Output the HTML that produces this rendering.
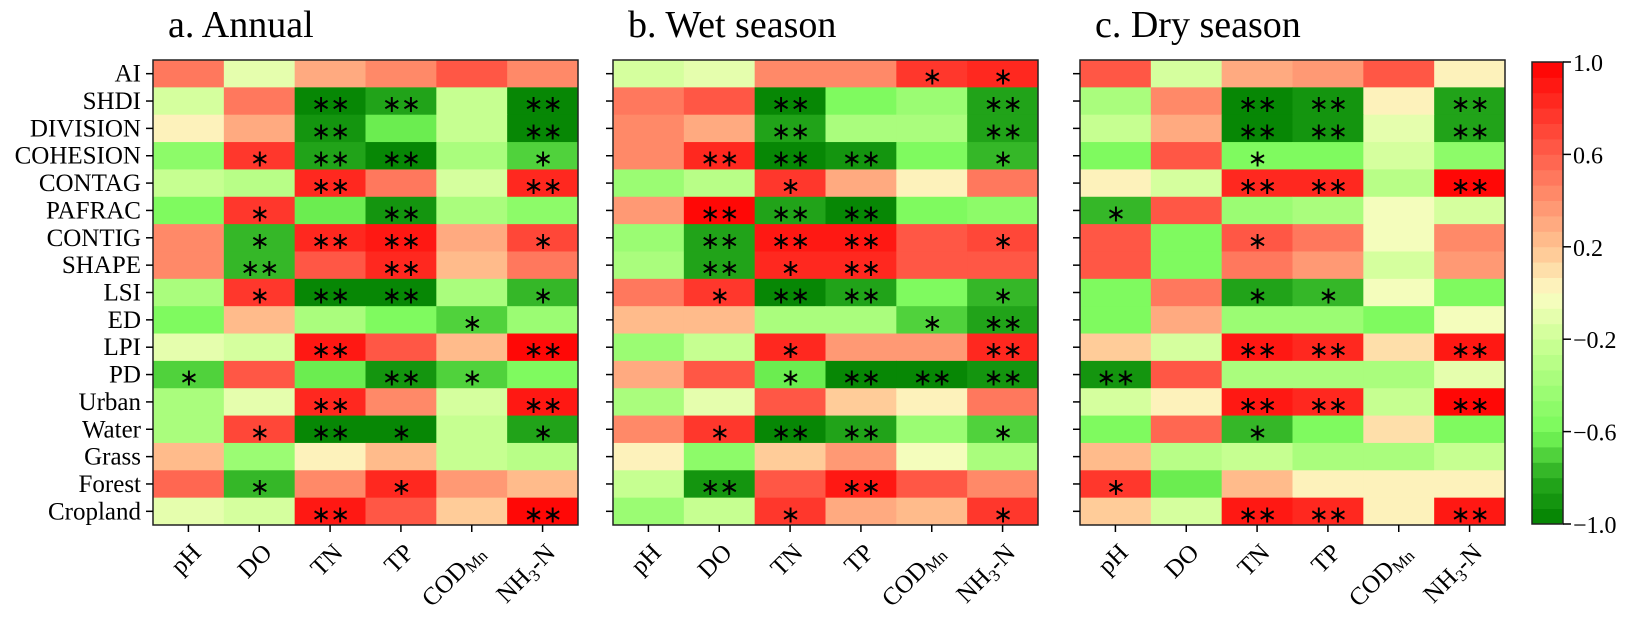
<!DOCTYPE html>
<html><head><meta charset="utf-8"><style>
html,body{margin:0;padding:0;background:#fff;}
svg{display:block;font-family:"Liberation Serif","DejaVu Serif",serif;}
</style></head><body>
<svg id="chart" width="1631" height="619" viewBox="0 0 1631 619" xmlns="http://www.w3.org/2000/svg"></svg>
<script>
const rowLabels = ["AI","SHDI","DIVISION","COHESION","CONTAG","PAFRAC","CONTIG","SHAPE","LSI","ED","LPI","PD","Urban","Water","Grass","Forest","Cropland"];
const colLabels = ["pH","DO","TN","TP","COD","NH3"];
const panelTitles = ["a. Annual","b. Wet season","c. Dry season"];
const cbTicks = [1.0,0.6,0.2,-0.2,-0.6,-1.0];
const cbTickLabels = ["1.0","0.6","0.2","\u22120.2","\u22120.6","\u22121.0"];

const annualValues = [
[0.5,-0.1,0.3,0.4,0.6,0.45],
[-0.15,0.5,-1.0,-0.85,-0.25,-1.0],
[0.05,0.3,-0.9,-0.65,-0.25,-1.0],
[-0.5,0.75,-0.85,-0.95,-0.4,-0.7],
[-0.25,-0.3,0.85,0.5,-0.2,0.8],
[-0.55,0.75,-0.65,-0.9,-0.4,-0.5],
[0.4,-0.75,0.8,0.9,0.3,0.7],
[0.4,-0.75,0.65,0.8,0.2,0.5],
[-0.4,0.75,-0.95,-1.0,-0.35,-0.75],
[-0.55,0.25,-0.4,-0.55,-0.7,-0.45],
[-0.1,-0.15,0.9,0.6,0.25,0.95],
[-0.7,0.6,-0.65,-0.9,-0.7,-0.55],
[-0.4,-0.1,0.85,0.4,-0.2,0.9],
[-0.35,0.7,-0.95,-0.95,-0.25,-0.8],
[0.25,-0.45,0.0,0.25,-0.25,-0.3],
[0.55,-0.75,0.4,0.8,0.35,0.25],
[-0.1,-0.2,0.9,0.6,0.15,0.95]];
const wetValues = [
[-0.15,-0.1,0.4,0.4,0.75,0.8],
[0.5,0.6,-0.95,-0.55,-0.45,-0.85],
[0.4,0.3,-0.8,-0.35,-0.35,-0.85],
[0.4,0.8,-1.0,-0.9,-0.6,-0.75],
[-0.45,-0.3,0.75,0.3,0.05,0.5],
[0.35,0.95,-0.85,-1.0,-0.6,-0.5],
[-0.45,-0.85,0.9,0.9,0.6,0.7],
[-0.35,-0.85,0.8,0.85,0.6,0.6],
[0.5,0.75,-0.95,-0.8,-0.6,-0.75],
[0.25,0.25,-0.35,-0.35,-0.7,-0.85],
[-0.45,-0.25,0.8,0.35,0.35,0.85],
[0.3,0.6,-0.65,-0.95,-0.95,-0.9],
[-0.4,-0.1,0.6,0.15,0.0,0.5],
[0.4,0.75,-1.0,-0.85,-0.45,-0.7],
[0.05,-0.5,0.15,0.35,-0.05,-0.35],
[-0.25,-0.9,0.6,0.9,0.6,0.4],
[-0.45,-0.25,0.75,0.3,0.25,0.75]];
const dryValues = [
[0.6,-0.2,0.3,0.35,0.6,0.0],
[-0.35,0.4,-1.0,-0.9,0.05,-0.85],
[-0.25,0.3,-1.0,-0.9,-0.1,-0.85],
[-0.6,0.6,-0.6,-0.55,-0.15,-0.5],
[0.0,-0.15,0.85,0.8,-0.3,0.95],
[-0.75,0.6,-0.45,-0.35,-0.05,-0.2],
[0.6,-0.6,0.65,0.5,-0.05,0.45],
[0.6,-0.6,0.5,0.35,-0.15,0.35],
[-0.55,0.5,-0.8,-0.75,-0.05,-0.55],
[-0.55,0.3,-0.45,-0.45,-0.6,-0.05],
[0.15,-0.2,0.9,0.85,0.1,0.9],
[-0.9,0.6,-0.4,-0.4,-0.4,-0.1],
[-0.2,0.0,0.9,0.85,-0.25,0.95],
[-0.55,0.55,-0.75,-0.6,0.1,-0.55],
[0.25,-0.3,-0.25,-0.35,-0.35,-0.25],
[0.75,-0.65,0.2,0.05,0.05,0.0],
[0.15,-0.2,0.9,0.85,0.05,0.9]];

const annualSig = [
"","","","","","",
"","","**","**","","**",
"","","**","","","**",
"","*","**","**","","*",
"","","**","","","**",
"","*","","**","","",
"","*","**","**","","*",
"","**","","**","","",
"","*","**","**","","*",
"","","","","*","",
"","","**","","","**",
"*","","","**","*","",
"","","**","","","**",
"","*","**","*","","*",
"","","","","","",
"","*","","*","","",
"","","**","","","**"];
const wetSig = [
"","","","","*","*",
"","","**","","","**",
"","","**","","","**",
"","**","**","**","","*",
"","","*","","","",
"","**","**","**","","",
"","**","**","**","","*",
"","**","*","**","","",
"","*","**","**","","*",
"","","","","*","**",
"","","*","","","**",
"","","*","**","**","**",
"","","","","","",
"","*","**","**","","*",
"","","","","","",
"","**","","**","","",
"","","*","","","*"];
const drySig = [
"","","","","","",
"","","**","**","","**",
"","","**","**","","**",
"","","*","","","",
"","","**","**","","**",
"*","","","","","",
"","","*","","","",
"","","","","","",
"","","*","*","","",
"","","","","","",
"","","**","**","","**",
"**","","","","","",
"","","**","**","","**",
"","","*","","","",
"","","","","","",
"*","","","","","",
"","","**","**","","**"];

const panelValues = [annualValues, wetValues, dryValues];
const panelSig = [annualSig, wetSig, drySig];

const NS = "http://www.w3.org/2000/svg";
const svgRoot = document.getElementById('chart');
function mk(tag, attrs, parent){ const e=document.createElementNS(NS,tag); for(const k in attrs) e.setAttribute(k,attrs[k]); (parent||svgRoot).appendChild(e); return e; }

const anchors = [[-1,[0,128,0]],[-0.8,[40,170,30]],[-0.6,[120,250,90]],[-0.2,[205,255,150]],[0,[252,252,195]],[0.2,[255,195,145]],[0.6,[255,95,75]],[1,[255,0,0]]];
const NLEV = 30;
function color(v){
  let q = Math.floor((v+1)/2*NLEV); if(q>=NLEV) q=NLEV-1; if(q<0) q=0;
  const t = -1 + (q+0.5)*2/NLEV;
  for(let i=0;i<anchors.length-1;i++){
    const [a,ca]=anchors[i],[b,cb]=anchors[i+1];
    if(t>=a && t<=b){ const f=(t-a)/(b-a); return 'rgb('+ca.map((c,j)=>Math.round(c+(cb[j]-c)*f)).join(',')+')'; }
  }
  return 'rgb(255,0,0)';
}

const panelX = [153, 613, 1080];
const PW = 425, plotTop = 60, plotBottom = 525;
const rowH = (plotBottom-plotTop)/rowLabels.length;
const colW = PW/colLabels.length;
function xPos(p,c){ return panelX[p] + c*colW; }
function yPos(r){ return plotTop + r*rowH; }

panelValues.forEach((vals,p)=>{
  const g = mk('g',{});
  
  
  const title = mk('text',{x:panelX[p]+15,y:37,'font-size':38,fill:'#000'},g);
  title.textContent = panelTitles[p];
  
  
  vals.forEach((row,r)=>{
    row.forEach((v,c)=>{
      const rc = mk('rect',{x:xPos(p,c),y:yPos(r),width:colW+0.5,height:rowH+0.5,fill:color(v)},g);
      
      
      const s = panelSig[p][r*6+c];
      if(s){
        const t = mk('text',{x:xPos(p,c)+colW/2,y:yPos(r)+rowH/2+11,'text-anchor':'middle','font-size':24,'letter-spacing':-1,fill:'#000','font-family':'"DejaVu Sans",sans-serif'},g);
        t.textContent = s.replace(/\*/g,'\u2217');
        
        
      }
    });
  });
  const fr = mk('rect',{x:panelX[p],y:plotTop,width:PW,height:plotBottom-plotTop,fill:'none',stroke:'#222','stroke-width':1.5},g);
  
  
  rowLabels.forEach((lab,r)=>{
    const cy = yPos(r)+rowH/2;
    mk('line',{x1:panelX[p]-7,x2:panelX[p],y1:cy,y2:cy,stroke:'#000','stroke-width':1.5},g);
    if(p===0){
      const t = mk('text',{x:panelX[p]-12,y:cy+8,'text-anchor':'end','font-size':25,fill:'#000'},g);
      t.textContent = lab;
      
      
    }
  });
  colLabels.forEach((lab,c)=>{
    const cx = xPos(p,c)+colW/2;
    mk('line',{x1:cx,x2:cx,y1:plotBottom,y2:plotBottom+7,stroke:'#000','stroke-width':1.5},g);
    const ax = cx+14, ay = 554;
    const t = mk('text',{x:ax,y:ay,'text-anchor':'end','font-size':25,fill:'#000',transform:'rotate(-45 '+ax+' '+ay+')'},g);
    if(lab==='COD'){
      t.appendChild(document.createTextNode('COD'));
      const ts = mk('tspan',{'font-size':17,dy:4},t); ts.textContent='Mn';
    } else if(lab==='NH3'){
      t.appendChild(document.createTextNode('NH'));
      const t1 = mk('tspan',{'font-size':17,dy:5},t); t1.textContent='3';
      const t2 = mk('tspan',{dy:-5},t); t2.textContent='-N';
    } else t.textContent = lab;
    
    
  });
});

const cbX=1532, cbW=31, cbTop=62, cbBot=524;
const cbG = mk('g',{});


function cbY(v){ return cbBot - (v+1)/2*(cbBot-cbTop); }
for(let i=0;i<NLEV;i++){
  const v0=-1+i*2/NLEV, v1=-1+(i+1)*2/NLEV;
  const r = mk('rect',{x:cbX,y:cbY(v1),width:cbW,height:cbY(v0)-cbY(v1)+0.4,fill:color((v0+v1)/2)},cbG);
  
  
}
mk('rect',{x:cbX,y:cbTop,width:cbW,height:cbBot-cbTop,fill:'none',stroke:'#222','stroke-width':1.5},cbG);
cbTicks.forEach((v,i)=>{
  const y=cbY(v);
  mk('line',{x1:cbX+cbW,x2:cbX+cbW+8,y1:y,y2:y,stroke:'#000','stroke-width':1.5},cbG);
  const t = mk('text',{x:cbX+cbW+10,y:y+9,'font-size':24,fill:'#000'},cbG);
  t.textContent = cbTickLabels[i];
  
  
});
</script>
</body></html>
